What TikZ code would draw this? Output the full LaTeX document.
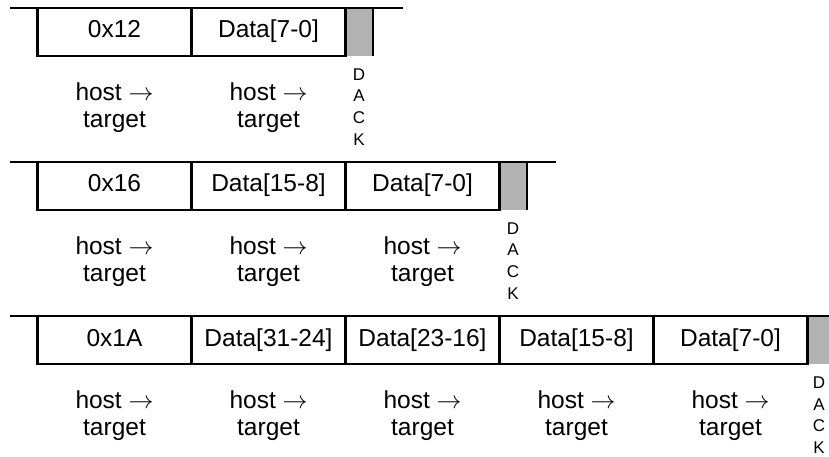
\documentclass[tikz,border=0pt]{standalone}
\usepackage{fontspec}
\setmainfont{Liberation Sans}
\begin{document}
\begin{tikzpicture}
    [x=1pt, y=-1pt,
    bus/.style={line width=2.2pt},
    cell/.style={draw, line width=2.2pt, minimum width=154pt, minimum height=48pt,
      inner sep=0pt, text height=17.5pt, text depth=5.5pt,
      font=\fontsize{24.5}{27}\selectfont},
    ackslot/.style={fill=gray!60, minimum width=27pt, minimum height=48pt, inner sep=0pt},
    dir/.style={align=center, font=\fontsize{24.5}{27}\selectfont},
    dack/.style={align=center, font=\fontsize{17}{21.7}\selectfont}]
    \useasboundingbox (0,0) rectangle (829,457);
    % write 0x12
    \node[ackslot] (ackA) at (359,32) {};
    \node[cell] (addrA) at (114.5,32) {0x12};
    \node[cell] (dataA1) at (268.5,32) {Data[7-0]};
    \draw[bus] (9.5,8) -- (403,8);
    \draw[bus] (ackA.north east) -- (ackA.south east);
    \node[dir] (dirA1) at (114.5,107.5) {host $\rightarrow$\\target};
    \node[dir] (dirA2) at (268.5,107.5) {host $\rightarrow$\\target};
    \node[dack] (dackA) at (359,107) {D\\A\\C\\K};
    % write 0x16
    \node[ackslot] (ackB) at (513,186) {};
    \node[cell] (addrB) at (114.5,186) {0x16};
    \node[cell] (dataB1) at (268.5,186) {Data[15-8]};
    \node[cell] (dataB2) at (422.5,186) {Data[7-0]};
    \draw[bus] (9.5,162) -- (556,162);
    \draw[bus] (ackB.north east) -- (ackB.south east);
    \node[dir] (dirB1) at (114.5,261.5) {host $\rightarrow$\\target};
    \node[dir] (dirB2) at (268.5,261.5) {host $\rightarrow$\\target};
    \node[dir] (dirB3) at (422.5,261.5) {host $\rightarrow$\\target};
    \node[dack] (dackB) at (513,261) {D\\A\\C\\K};
    % write 0x1A
    \node[ackslot] (ackC) at (821,340) {};
    \node[cell] (addrC) at (114.5,340) {0x1A};
    \node[cell] (dataC1) at (268.5,340) {Data[31-24]};
    \node[cell] (dataC2) at (422.5,340) {Data[23-16]};
    \node[cell] (dataC3) at (576.5,340) {Data[15-8]};
    \node[cell] (dataC4) at (730.5,340) {Data[7-0]};
    \draw[bus] (9.5,316) -- (835,316);
    \node[dir] (dirC1) at (114.5,415.5) {host $\rightarrow$\\target};
    \node[dir] (dirC2) at (268.5,415.5) {host $\rightarrow$\\target};
    \node[dir] (dirC3) at (422.5,415.5) {host $\rightarrow$\\target};
    \node[dir] (dirC4) at (576.5,415.5) {host $\rightarrow$\\target};
    \node[dir] (dirC5) at (730.5,415.5) {host $\rightarrow$\\target};
    \node[dack] (dackC) at (819,415) {D\\A\\C\\K};
\end{tikzpicture}
\end{document}
